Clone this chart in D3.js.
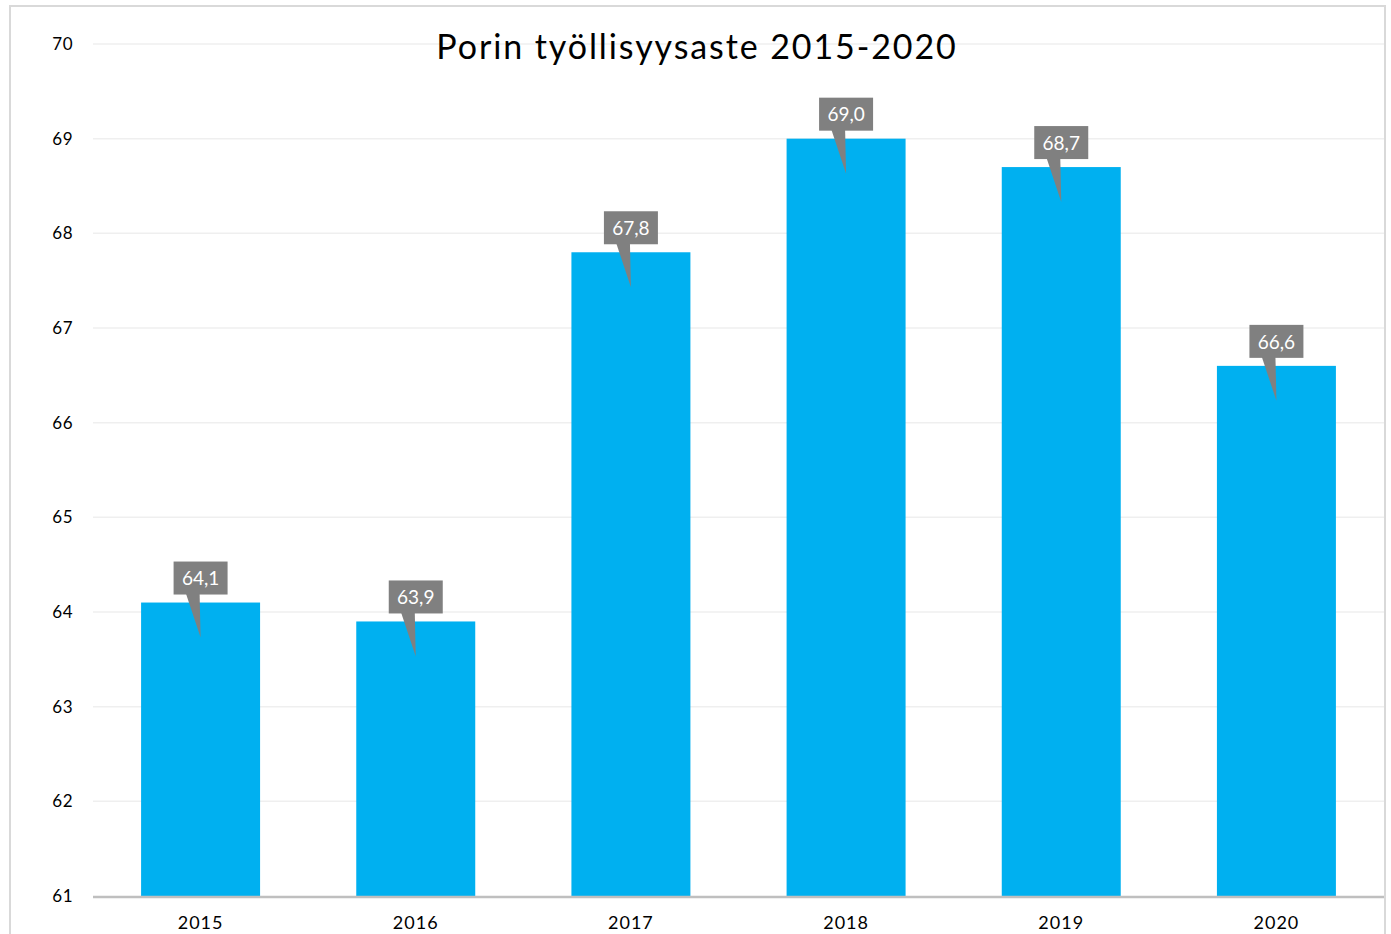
<!DOCTYPE html>
<html>
  <head>
    <meta charset="utf-8">
    <title>Porin työllisyysaste 2015-2020</title>
    <script src="https://cdn.jsdelivr.net/npm/d3@7"></script>
    <style>
      body { margin: 0; background: #fff; }
      svg { display: block; font-family: Lato, "Open Sans", sans-serif; }
    </style>
  </head>
  <body>
    <svg id="chart" width="1391" height="934"></svg>

    <script>
      // data
      const years = ["2015", "2016", "2017", "2018", "2019", "2020"];
      const rates = [64.1, 63.9, 67.8, 69.0, 68.7, 66.6];
      const yTicks = [61, 62, 63, 64, 65, 66, 67, 68, 69, 70];
      const title = "Porin työllisyysaste 2015-2020";

      const svg = d3.select("#chart");

      // frame
      svg.append("rect")
        .attr("x", 10).attr("y", 6)
        .attr("width", 1375).attr("height", 940)
        .style("fill", "#fff")
        .style("stroke", "#d9d9d9")
        .style("stroke-width", 2);

      const x = d3.scaleBand()
        .domain(years)
        .range([93, 1384])
        .paddingInner(0.447)
        .paddingOuter(0.2235);

      const y = d3.scaleLinear()
        .domain([61, 70])
        .range([896, 44]);

      // gridlines
      svg.append("g")
        .selectAll("line")
        .data(yTicks.filter(d => d > 61))
        .join("line")
          .attr("x1", 93).attr("x2", 1384)
          .attr("y1", d => y(d)).attr("y2", d => y(d))
          .style("stroke", "#efefef")
          .style("stroke-width", 1.5);

      // y labels
      svg.append("g")
        .selectAll("text")
        .data(yTicks)
        .join("text")
          .attr("x", 73)
          .attr("y", d => y(d))
          .attr("dy", "0.35em")
          .attr("text-anchor", "end")
          .style("font-size", "17px")
          .style("letter-spacing", "0.5px")
          .style("fill", "#000")
          .text(d => d);

      // title
      svg.append("text")
        .attr("x", 697).attr("y", 59)
        .attr("text-anchor", "middle")
        .style("font-size", "34px")
        .style("letter-spacing", "1.9px")
        .style("fill", "#000")
        .text(title);

      // bars
      svg.append("g")
        .selectAll("rect")
        .data(rates)
        .join("rect")
          .attr("x", (d, i) => x(years[i]))
          .attr("y", d => y(d))
          .attr("width", x.bandwidth())
          .attr("height", d => y(61) - y(d))
          .style("fill", "#00b0f0");

      // axis line
      svg.append("line")
        .attr("x1", 93).attr("x2", 1384)
        .attr("y1", y(61) + 1).attr("y2", y(61) + 1)
        .style("stroke", "#bfbfbf")
        .style("stroke-width", 2.5);

      // x labels
      svg.append("g")
        .selectAll("text")
        .data(years)
        .join("text")
          .attr("x", d => x(d) + x.bandwidth() / 2)
          .attr("y", 929)
          .attr("text-anchor", "middle")
          .style("font-size", "18px")
          .style("letter-spacing", "1px")
          .style("fill", "#000")
          .text(d => d);

      // callouts
      const callouts = svg.append("g")
        .selectAll("g")
        .data(rates)
        .join("g")
          .attr("transform", (d, i) => `translate(${x(years[i]) + x.bandwidth() / 2},${y(d)})`);

      callouts.append("path")
        .attr("d", "M -15 -10 L -1 -10 L 0 35 Z")
        .style("fill", "#808080");

      callouts.append("rect")
        .attr("x", -27).attr("y", -41)
        .attr("width", 54).attr("height", 33)
        .style("fill", "#808080");

      callouts.append("text")
        .attr("x", 0).attr("y", -24)
        .attr("dy", "0.35em")
        .attr("text-anchor", "middle")
        .style("font-size", "19px")
        .style("fill", "#fff")
        .text(d => d.toFixed(1).replace(".", ","));
    </script>
  </body>
</html>
